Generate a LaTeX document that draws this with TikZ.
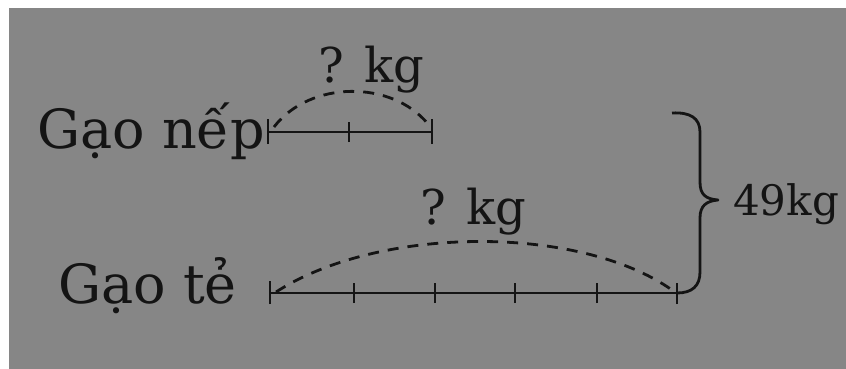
\documentclass[tikz,border=0pt]{standalone}
\usepackage{fontspec}
\setmainfont{DejaVu Serif}
\usetikzlibrary{decorations.pathreplacing}
\definecolor{paper}{RGB}{134,134,134}
\definecolor{ink}{RGB}{20,20,20}
\begin{document}
\begin{tikzpicture}[x=1pt,y=-1pt,
  lbl/.style={anchor=base west,inner sep=0pt,text=ink},
  seg/.style={draw=ink,line width=2.8pt},
  tick/.style={draw=ink,line width=2.8pt},
  arcd/.style={draw=ink,line width=2.8pt,dash pattern=on 11pt off 9pt}]
\useasboundingbox (0,0) rectangle (846,369);
\fill[white] (0,0) rectangle (846,369);
\fill[paper] (9,8) rectangle (846,369);
% labels
\node[lbl,font=\fontsize{54}{60}\selectfont] (nep) at (37,148) {Gạo nếp};
\node[lbl,font=\fontsize{54}{60}\selectfont] (te) at (58,303) {Gạo tẻ};
\node[lbl,font=\fontsize{48}{54}\selectfont] (q1) at (318,82) {? kg};
\node[lbl,font=\fontsize{48}{54}\selectfont] (q2) at (420,224) {? kg};
\node[lbl,font=\fontsize{42}{48}\selectfont] (tot) at (733,215) {49kg};
% line 1
\coordinate (a0) at (268,132);
\coordinate (a1) at (349,132);
\coordinate (a2) at (432,132);
\draw[seg] (a0) -- (a2);
\draw[tick] ([yshift=-12pt]a0) -- ([yshift=13pt]a0);
\draw[tick] ([yshift=-10pt]a1) -- ([yshift=10pt]a1);
\draw[tick] ([yshift=-12pt]a2) -- ([yshift=13pt]a2);
\draw[arcd] (274,127) .. controls (310,80) and (392,80) .. (428,124);
% line 2
\coordinate (b0) at (270,293);
\coordinate (b1) at (354,293);
\coordinate (b2) at (435,293);
\coordinate (b3) at (515,293);
\coordinate (b4) at (597,293);
\coordinate (b5) at (677,293);
\draw[seg] (b0) -- (b5);
\draw[tick] ([yshift=-11pt]b0) -- ([yshift=12pt]b0);
\foreach \c in {b1,b2,b3,b4}{\draw[tick] ([yshift=-10pt]\c) -- ([yshift=10pt]\c);}
\draw[tick] ([yshift=-11pt]b5) -- ([yshift=10pt]b5);
\draw[arcd] (276,292) .. controls (380,225) and (580,225) .. (672,290);
% brace
\coordinate (t0) at (672,113);
\coordinate (tip) at (718,200);
\draw[draw=ink,line width=2.8pt,line join=round]
  (t0) .. controls (690,112) and (700,118) .. (700,132)
  -- (700,182) .. controls (700,195) and (706,199) .. (tip)
  .. controls (706,201) and (700,206) .. (700,218)
  -- (700,272) .. controls (700,286) and (692,293) .. (b5);
\end{tikzpicture}
\end{document}
